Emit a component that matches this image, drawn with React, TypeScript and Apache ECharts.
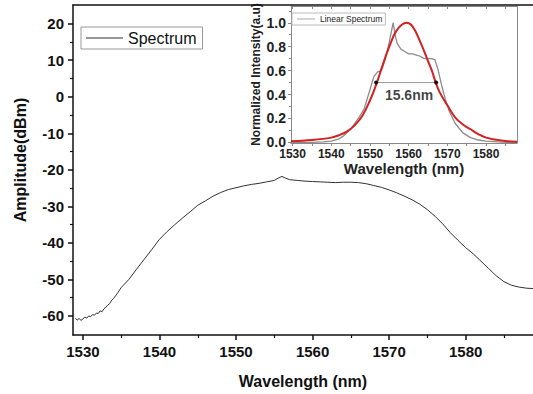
import React, { useEffect, useRef } from "react";
import * as echarts from "echarts";

// ---- Main spectrum (dBm) ----
const mainWavelength = [
  1529, 1529.25, 1529.5, 1529.75, 1530, 1530.25, 1530.5, 1530.75, 1531, 1531.25, 1531.5, 1531.75,
  1532, 1532.25, 1532.5, 1532.75, 1533, 1533.25, 1533.5, 1533.75, 1534, 1534.5, 1535, 1536, 1537, 1538, 1539,
  1540, 1541, 1542, 1543, 1544, 1545, 1546, 1547, 1548, 1549, 1550, 1551, 1552, 1553, 1554, 1555,
  1555.5, 1556, 1556.5, 1557, 1558, 1559, 1560, 1561, 1562, 1563, 1564, 1565, 1566, 1567, 1568, 1569,
  1570, 1571, 1572, 1573, 1574, 1575, 1576, 1577, 1578, 1579, 1580, 1581, 1582, 1583, 1584, 1585,
  1586, 1587, 1588, 1589,
];
const mainAmplitude = [
  -60.6, -61.1, -60.7, -61.2, -60.8, -60.3, -60.6, -60.0, -60.2, -59.6, -59.8, -59.2,
  -59.3, -58.6, -58.8, -58.0, -57.6, -57.0, -56.6, -55.7, -55.2, -53.8, -52.2, -50.0, -47.2, -44.5, -41.8,
  -39.0, -36.9, -35.0, -33.2, -31.5, -29.7, -28.5, -27.2, -26.2, -25.4, -24.9, -24.4, -24.0, -23.7, -23.3, -22.9,
  -22.3, -21.8, -22.3, -22.7, -22.9, -23.1, -23.2, -23.3, -23.4, -23.5, -23.4, -23.4, -23.5, -23.8, -24.3, -24.8,
  -25.5, -26.3, -27.2, -28.2, -29.4, -30.9, -32.7, -34.8, -37.2, -39.3, -41.3, -43.0, -45.0, -47.0, -49.0, -50.6,
  -51.6, -52.1, -52.4, -52.5,
];

// ---- Inset: linear spectrum ----
const linWavelength = [
  1529.6, 1535, 1538, 1540, 1542, 1543, 1545, 1547, 1548.5, 1550, 1551, 1552, 1553, 1554, 1555, 1555.5,
  1556, 1556.5, 1557, 1558, 1559, 1560, 1561, 1562, 1563, 1564, 1565, 1566, 1566.8, 1567.5, 1568.5, 1569.5,
  1570.5, 1572, 1574, 1576, 1578, 1580, 1585, 1588,
];
const linIntensity = [
  0.0, 0.0, 0.005, 0.01, 0.03, 0.05, 0.11, 0.2, 0.28, 0.44, 0.55, 0.59, 0.6, 0.7, 0.84, 0.92,
  1.0, 0.9, 0.83, 0.78, 0.76, 0.74, 0.74, 0.73, 0.72, 0.7, 0.7, 0.7, 0.69, 0.62, 0.48, 0.36,
  0.26, 0.16, 0.08, 0.04, 0.02, 0.01, 0.0, 0.0,
];

// ---- Inset: fitted curve ----
const fitWavelength = [
  1529.6, 1535, 1540, 1542, 1544, 1546, 1548, 1550, 1551.8, 1553, 1555, 1557, 1559.4, 1561, 1563, 1565,
  1566, 1567, 1568, 1570, 1572, 1574, 1576, 1578, 1580, 1584, 1588,
];
const fitIntensity = [
  0.01, 0.02, 0.04, 0.06, 0.09, 0.14, 0.22, 0.35, 0.5, 0.62, 0.8, 0.94, 1.0, 0.97, 0.84, 0.68,
  0.6, 0.5, 0.42, 0.31, 0.21, 0.15, 0.11, 0.07, 0.04, 0.015, 0.005,
];

// ---- FWHM annotation ----
const fwhmWavelength = [1551.6, 1567.1];
const fwhmLevel = [0.5, 0.5];
const fwhmLabelPos = [1560.1, 0.4];
const fwhmLabel = "15.6nm";

// ---- Ticks ----
const mainXTicks = [1530, 1540, 1550, 1560, 1570, 1580];
const mainXMinor = [1535, 1545, 1555, 1565, 1575, 1585];
const mainYTicks = [-60, -50, -40, -30, -20, -10, 0, 10, 20];
const mainYMinor = [-55, -45, -35, -25, -15, -5, 5, 15];
const insetXTicks = [1530, 1540, 1550, 1560, 1570, 1580];
const insetXAll = [1530, 1535, 1540, 1545, 1550, 1555, 1560, 1565, 1570, 1575, 1580, 1585];
const insetYTicks = [0, 0.2, 0.4, 0.6, 0.8, 1.0];
const insetYMinor = [0.1, 0.3, 0.5, 0.7, 0.9, 1.1];

const FONT = 'Arial, "Liberation Sans", sans-serif';

export default function App() {
  const ref = useRef<HTMLDivElement>(null);

  useEffect(() => {
    if (!ref.current) return;
    const chart = echarts.init(ref.current, undefined, { renderer: "svg" });

    const zip = (xs: number[], ys: number[]) => xs.map((x, i) => [x, ys[i]]);
    const black = "#111";
    const insetAxis = "#888";
    const plain = (v: number) => String(v);

    const option: any = {
      animation: false,
      backgroundColor: "#fff",
      textStyle: { fontFamily: FONT },
      grid: [
        { left: 73, top: 5, right: 0, bottom: 59 },
        { left: 291, top: 6, right: 16, bottom: 251 },
      ],
      graphic: [
        {
          type: "text",
          x: 20,
          y: 160,
          rotation: Math.PI / 2,
          style: {
            text: "Amplitude(dBm)",
            fontSize: 16,
            fontWeight: "bold",
            fontFamily: FONT,
            fill: "#111",
            align: "center",
            verticalAlign: "middle",
          },
        },
      ],
      legend: [
        {
          data: [{ name: "Spectrum", icon: "rect" }],
          left: 81,
          top: 27,
          orient: "horizontal",
          padding: [2, 6, 2, 5],
          itemWidth: 37,
          itemHeight: 1.2,
          itemStyle: { color: "#333", borderWidth: 0 },
          lineStyle: { width: 0 },
          borderColor: "#999",
          borderWidth: 1,
          textStyle: { fontSize: 16, color: "#111", fontFamily: FONT, lineHeight: 18 },
        },
        {
          data: [{ name: "Linear Spectrum", icon: "rect" }],
          left: 292,
          top: 13,
          padding: [1, 3, 1, 5],
          itemWidth: 18,
          itemHeight: 1,
          itemStyle: { color: "#aaa", borderWidth: 0 },
          lineStyle: { width: 0 },
          borderColor: "#bbb",
          borderWidth: 1,
          backgroundColor: "#fff",
          textStyle: { fontSize: 8.5, color: "#222", fontFamily: FONT, lineHeight: 10 },
        },
      ],
      xAxis: [
        {
          gridIndex: 0,
          type: "value",
          min: 1528.7,
          max: 1588.8,
          position: "bottom",
          axisLine: { show: true, onZero: false, lineStyle: { color: black, width: 1.5 } },
          axisTick: { show: true, customValues: mainXTicks, length: 5, lineStyle: { color: black, width: 1.5 } },
          axisLabel: { customValues: mainXTicks, formatter: plain, margin: 9, fontSize: 15, fontWeight: "bold", color: "#111", fontFamily: FONT },
          splitLine: { show: false },
          name: "Wavelength (nm)",
          nameLocation: "middle",
          nameGap: 38,
          nameTextStyle: { fontSize: 16, fontWeight: "bold", color: "#111", fontFamily: FONT },
        },
        {
          gridIndex: 0,
          type: "value",
          min: 1528.7,
          max: 1588.8,
          position: "bottom",
          axisLine: { show: false, onZero: false },
          axisTick: { show: true, customValues: mainXMinor, length: 3, lineStyle: { color: black, width: 1.2 } },
          axisLabel: { show: false },
          splitLine: { show: false },
        },
        {
          gridIndex: 0,
          type: "value",
          min: 1528.7,
          max: 1588.8,
          position: "top",
          axisLine: { show: true, onZero: false, lineStyle: { color: black, width: 1.5 } },
          axisTick: { show: false },
          axisLabel: { show: false },
          splitLine: { show: false },
        },
        {
          gridIndex: 1,
          type: "value",
          min: 1529.6,
          max: 1588,
          position: "bottom",
          axisLine: { show: true, onZero: false, lineStyle: { color: insetAxis, width: 1 } },
          axisTick: { show: true, customValues: insetXAll, length: 3, lineStyle: { color: insetAxis } },
          axisLabel: { customValues: insetXTicks, formatter: plain, margin: 5, fontSize: 12, fontWeight: "bold", color: "#222", fontFamily: FONT },
          splitLine: { show: false },
          name: "Wavelength (nm)",
          nameLocation: "middle",
          nameGap: 14,
          nameTextStyle: { fontSize: 15, fontWeight: "bold", color: "#222", fontFamily: FONT },
        },
        {
          gridIndex: 1,
          type: "value",
          min: 1529.6,
          max: 1588,
          position: "top",
          axisLine: { show: true, onZero: false, lineStyle: { color: insetAxis, width: 1 } },
          axisTick: { show: true, inside: true, customValues: insetXAll, length: 3, lineStyle: { color: insetAxis } },
          axisLabel: { show: false },
          splitLine: { show: false },
        },
      ],
      yAxis: [
        {
          gridIndex: 0,
          type: "value",
          min: -65.2,
          max: 25.1,
          position: "left",
          axisLine: { show: true, onZero: false, lineStyle: { color: black, width: 1.5 } },
          axisTick: { show: true, customValues: mainYTicks, length: 5, lineStyle: { color: black, width: 1.5 } },
          axisLabel: { customValues: mainYTicks, formatter: plain, margin: 9, fontSize: 15, fontWeight: "bold", color: "#111", fontFamily: FONT },
          splitLine: { show: false },
        },
        {
          gridIndex: 0,
          type: "value",
          min: -65.2,
          max: 25.1,
          position: "left",
          axisLine: { show: false, onZero: false },
          axisTick: { show: true, customValues: mainYMinor, length: 3, lineStyle: { color: black, width: 1.2 } },
          axisLabel: { show: false },
          splitLine: { show: false },
        },
        {
          gridIndex: 1,
          type: "value",
          min: -0.005,
          max: 1.14,
          position: "left",
          axisLine: { show: true, onZero: false, lineStyle: { color: insetAxis, width: 1 } },
          axisTick: { show: true, customValues: insetYTicks, length: 3, lineStyle: { color: insetAxis } },
          axisLabel: {
            customValues: insetYTicks,
            margin: 5,
            fontSize: 14,
            fontWeight: "bold",
            color: "#222",
            fontFamily: FONT,
            formatter: (v: number) => v.toFixed(1),
          },
          splitLine: { show: false },
          name: "Normalized Intensity(a.u)",
          nameLocation: "middle",
          nameGap: 29,
          nameTextStyle: { fontSize: 12, fontWeight: "bold", color: "#222", fontFamily: FONT },
        },
        {
          gridIndex: 1,
          type: "value",
          min: -0.005,
          max: 1.14,
          position: "left",
          axisLine: { show: false, onZero: false },
          axisTick: { show: true, customValues: insetYMinor, length: 2, lineStyle: { color: insetAxis } },
          axisLabel: { show: false },
          splitLine: { show: false },
        },
        {
          gridIndex: 1,
          type: "value",
          min: -0.005,
          max: 1.14,
          position: "right",
          axisLine: { show: true, onZero: false, lineStyle: { color: insetAxis, width: 1 } },
          axisTick: { show: false },
          axisLabel: { show: false },
          splitLine: { show: false },
        },
      ],
      series: [
        {
          name: "Spectrum",
          type: "line",
          xAxisIndex: 0,
          yAxisIndex: 0,
          data: zip(mainWavelength, mainAmplitude),
          symbol: "none",
          lineStyle: { color: "#333", width: 1 },
          itemStyle: { color: "#333" },
        },
        {
          name: "Linear Spectrum",
          type: "line",
          xAxisIndex: 3,
          yAxisIndex: 2,
          data: zip(linWavelength, linIntensity),
          symbol: "none",
          lineStyle: { color: "#8c8c8c", width: 1.3 },
          itemStyle: { color: "#aaa" },
          z: 3,
        },
        {
          name: "Fit",
          type: "line",
          xAxisIndex: 3,
          yAxisIndex: 2,
          data: zip(fitWavelength, fitIntensity),
          symbol: "none",
          smooth: 0.4,
          lineStyle: { color: "#d32020", width: 2 },
          itemStyle: { color: "#d32020" },
          z: 4,
        },
        {
          name: "FWHM",
          type: "line",
          xAxisIndex: 3,
          yAxisIndex: 2,
          data: zip(fwhmWavelength, fwhmLevel),
          symbol: "circle",
          symbolSize: 4,
          lineStyle: { color: "#999", width: 1 },
          itemStyle: { color: "#111" },
          z: 5,
        },
        {
          name: "FWHM label",
          type: "scatter",
          xAxisIndex: 3,
          yAxisIndex: 2,
          data: [fwhmLabelPos],
          symbolSize: 0,
          label: {
            show: true,
            position: "inside",
            formatter: () => fwhmLabel,
            fontSize: 14,
            fontWeight: "bold",
            color: "#111",
            fontFamily: FONT,
          },
          z: 6,
        },
      ],
    };

    chart.setOption(option);
    return () => chart.dispose();
  }, []);

  return <div ref={ref} style={{ width: 533, height: 394, position: "fixed", left: 0, top: 0, background: "#fff" }} />;
}
